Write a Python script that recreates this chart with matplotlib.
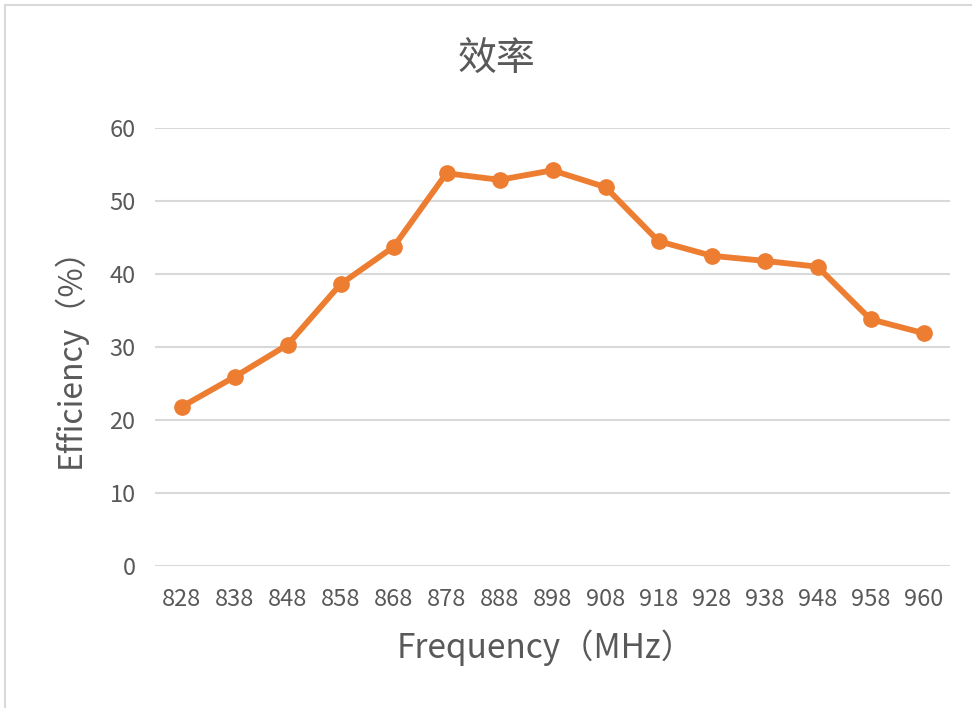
import matplotlib
matplotlib.use("Agg")
import matplotlib.pyplot as plt
from matplotlib.patches import Rectangle

plt.rcParams['font.family'] = ['Noto Sans CJK SC', 'DejaVu Sans']

frequencies = ["828", "838", "848", "858", "868", "878", "888", "898", "908",
               "918", "928", "938", "948", "958", "960"]
efficiency = [21.8, 25.9, 30.3, 38.6, 43.7, 53.8, 52.9, 54.2, 51.9,
              44.5, 42.5, 41.8, 41.0, 33.8, 31.9]
y_ticks = [0, 10, 20, 30, 40, 50, 60]

title = "效率"
xlabel = "Frequency（MHz）"
ylabel = "Efficiency（%）"

text_color = "#595959"
line_color = "#ED7D31"
grid_color = "#D9D9D9"

fig = plt.figure(figsize=(9.72, 7.08), dpi=100)
fig.patch.set_facecolor("white")
# chart area border (partially visible)
fig.add_artist(Rectangle((5 / 972, -0.1), 1.2, 1 - 5 / 708 + 0.1,
                         transform=fig.transFigure, fill=False,
                         edgecolor="#D9D9D9", linewidth=1.5))

ax = fig.add_axes([155 / 972, 1 - 566 / 708, (950 - 155) / 972, (566 - 128) / 708])
x = list(range(len(frequencies)))
ax.plot(x, efficiency, color=line_color, linewidth=4.2, marker="o",
        markersize=11, solid_capstyle="round", zorder=3)

ax.set_xlim(-0.5, len(frequencies) - 0.5)
ax.set_ylim(0, 60)
ax.set_yticks(y_ticks)
ax.set_xticks(x)
ax.set_xticklabels(frequencies)
ax.grid(axis="y", color=grid_color, linewidth=1.5)
ax.set_axisbelow(True)
for s in ax.spines.values():
    s.set_visible(False)
ax.tick_params(axis="both", length=0, colors=text_color, labelsize=17)
ax.tick_params(axis="x", pad=16)
ax.tick_params(axis="y", pad=14)

fig.text(497 / 972, 1 - 60 / 708, title, ha="center", va="center",
         fontsize=28, color=text_color)
fig.text(546 / 972, 1 - 648 / 708, xlabel, ha="center", va="center",
         fontsize=24, color=text_color)
fig.text(70 / 972, 1 - 350 / 708, ylabel, ha="center", va="center",
         rotation=90, fontsize=23, color=text_color)

fig.savefig("out.png", dpi=100, facecolor="white")
